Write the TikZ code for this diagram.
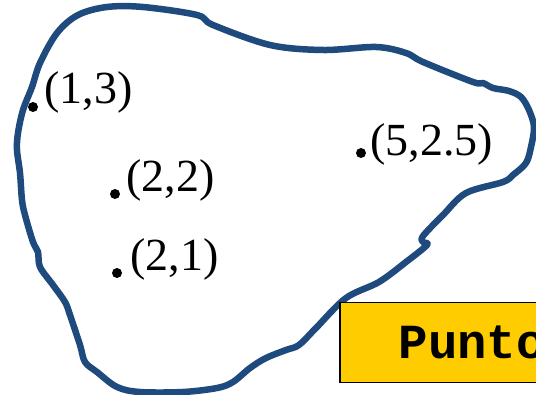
\documentclass[tikz,border=0pt]{standalone}
\usepackage{fontspec}
\setmainfont{Liberation Serif}
\newfontfamily\puntofont{Liberation Mono}
\begin{document}
\begin{tikzpicture}[x=1pt, y=-1pt]
        \tikzset{dot/.style={circle, fill=black, inner sep=0pt, minimum size=10pt},
                 lbl/.style={anchor=base west, inner sep=0pt, font=\fontsize{46}{50}\selectfont},
                 punto/.style={draw=black, line width=1.5pt, fill=setyellow, anchor=north west,
                   minimum height=80pt, inner xsep=59pt, text width=200pt, align=left,
                   font=\puntofont\bfseries\fontsize{49}{52}\selectfont}}
        \definecolor{setblue}{RGB}{31,74,126}
        \definecolor{setyellow}{RGB}{255,204,0}
        \clip (0,0) rectangle (536,395);
        \draw[setblue, line width=6.5pt, line join=round] plot[smooth cycle, tension=0.55] coordinates {
          (78,15) (107,7) (143,7) (197,15) (213,25) (270,45) (323,50) (376,47) (406,53) (423,62)
          (473,82) (483,83) (493,88) (509,91) (521,97) (529,110) (534,127) (531,147) (526,163)
          (513,175) (503,182) (466,193) (443,215) (423,236) (423,242) (427,245) (406,262) (379,282)
          (346,298) (316,328) (299,345) (286,350) (266,358) (250,368) (233,382) (217,388) (183,392)
          (140,392) (117,387) (97,372) (85,362) (80,345) (70,315) (65,302) (53,285) (40,267)
          (38,252) (33,242) (25,215) (22,200) (20,173) (17,150) (18,133) (23,110) (32,87) (40,63)
          (57,33)};
        \node[dot] (d13) at (33,107) {};
        \node[dot] (d22) at (115,194) {};
        \node[dot] (d21) at (117,273) {};
        \node[dot] (d525) at (361,153) {};
        \node[lbl] (l13) at (44,104) {(1,3)};
        \node[lbl] (l22) at (126,192) {(2,2)};
        \node[lbl] (l21) at (130,271) {(2,1)};
        \node[lbl] (l525) at (370,156) {(5,2.5)};
        \node[punto] (punto) at (339,302) {Punto};
    \end{tikzpicture}
\end{document}
